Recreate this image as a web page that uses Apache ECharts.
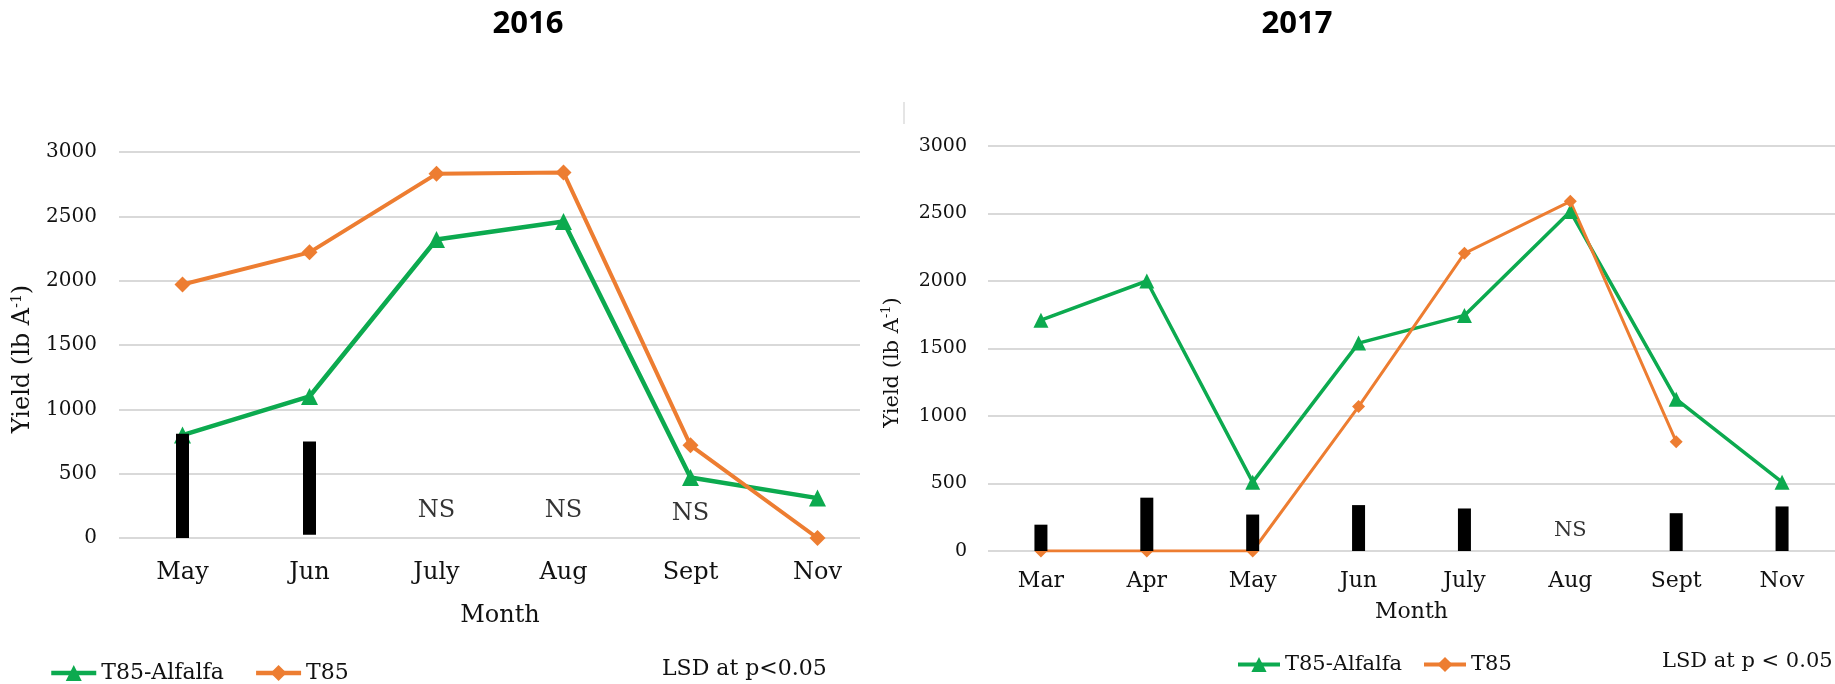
<!DOCTYPE html>
<html>
<head>
<meta charset="utf-8">
<script src="https://cdn.jsdelivr.net/npm/echarts@6/dist/echarts.min.js"></script>
<style>
html,body{margin:0;padding:0;background:#fff;}
#chart{width:1835px;height:684px;}
</style>
</head>
<body>
<div id="chart"></div>
<script>
// ---- data ----
const months2016 = ['May', 'Jun', 'July', 'Aug', 'Sept', 'Nov'];
const alfalfa2016 = [800, 1100, 2320, 2460, 470, 310];
const t85y2016 = [1970, 2220, 2830, 2840, 720, 0];
const lsdBase2016 = [0, 25, null, null, null, null];
const lsd2016 = [810, 725, null, null, null, null];
const ns2016 = [null, null, 210, 210, 185, null];

const months2017 = ['Mar', 'Apr', 'May', 'Jun', 'July', 'Aug', 'Sept', 'Nov'];
const alfalfa2017 = [1710, 2000, 510, 1540, 1745, 2515, 1125, 510];
const t85y2017 = [0, 0, 0, 1070, 2205, 2590, 810, null];
const lsd2017 = [195, 395, 270, 340, 315, null, 280, 330];
const ns2017 = [null, null, null, null, null, 148, null, null];

const yMin = 0, yMax = 3000, yStep = 500;
const seriesNames = ['T85-Alfalfa', 'T85'];
const titles = ['2016', '2017'];
const lsdNotes = ['LSD at p<0.05', 'LSD at p < 0.05'];

// ---- styles ----
const GREEN = '#0CAA4F', ORANGE = '#ED7D31', GRID = '#D9D9D9';
const SERIF = 'DejaVu Serif';
const TXT = '#111';

const chart = echarts.init(document.getElementById('chart'));

const yName = 'Yield (lb A{sup|-1})';
const yNameStyle = (size, shift) => ({
  fontFamily: SERIF, fontSize: size, color: TXT, padding: [0, shift, 0, 0],
  rich: { sup: { fontFamily: SERIF, fontSize: Math.round(size * 0.6), verticalAlign: 'top', padding: [0, 0, size * 0.5, 0] } }
});
const plain = (v) => String(v);

const option = {
  animation: false,
  title: [
    { text: titles[0], left: 523, top: 4, textAlign: 'center',
      textStyle: { fontFamily: 'Open Sans', fontWeight: 'bold', fontSize: 31, color: '#000' } },
    { text: titles[1], left: 1292, top: 4, textAlign: 'center',
      textStyle: { fontFamily: 'Open Sans', fontWeight: 'bold', fontSize: 31, color: '#000' } }
  ],
  legend: [
    { data: seriesNames, left: 44, top: 657, itemWidth: 45, itemHeight: 20, itemGap: 30,
      lineStyle: { width: 4.5 },
      textStyle: { fontFamily: SERIF, fontSize: 22, color: TXT } },
    { data: seriesNames, left: 1231, top: 649, itemWidth: 42, itemHeight: 19, itemGap: 20,
      lineStyle: { width: 4 },
      textStyle: { fontFamily: SERIF, fontSize: 21, color: TXT } }
  ],
  grid: [
    { left: 119, top: 152, width: 741, height: 386 },
    { left: 119, top: 152, width: 762, height: 386 },
    { left: 988, top: 146, width: 851, height: 405 }
  ],
  xAxis: [
    { gridIndex: 0, type: 'category', data: months2016, show: false },
    { gridIndex: 1, type: 'category', data: months2016,
      axisLine: { show: false }, axisTick: { show: false },
      axisLabel: { fontFamily: SERIF, fontSize: 24, color: TXT, margin: 23 },
      name: 'Month', nameLocation: 'middle', nameGap: 66,
      nameTextStyle: { fontFamily: SERIF, fontSize: 24, color: TXT } },
    { gridIndex: 2, type: 'category', data: months2017,
      axisLine: { show: false }, axisTick: { show: false },
      axisLabel: { fontFamily: SERIF, fontSize: 22, color: TXT, margin: 19 },
      name: 'Month', nameLocation: 'middle', nameGap: 50,
      nameTextStyle: { fontFamily: SERIF, fontSize: 22, color: TXT } }
  ],
  yAxis: [
    { gridIndex: 0, type: 'value', min: yMin, max: yMax, interval: yStep,
      axisLine: { show: false }, axisTick: { show: false },
      splitLine: { lineStyle: { color: GRID, width: 2 } },
      axisLabel: { fontFamily: SERIF, fontSize: 20, color: TXT, margin: 22, formatter: plain },
      name: yName, nameLocation: 'middle', nameGap: 83, nameRotate: 90,
      nameTextStyle: yNameStyle(24, 28) },
    { gridIndex: 1, type: 'value', min: yMin, max: yMax, interval: yStep, show: false,
      splitLine: { show: false } },
    { gridIndex: 2, type: 'value', min: yMin, max: yMax, interval: yStep,
      axisLine: { show: false }, axisTick: { show: false },
      splitLine: { lineStyle: { color: GRID, width: 2 } },
      axisLabel: { fontFamily: SERIF, fontSize: 19, color: TXT, margin: 21, formatter: plain },
      name: yName, nameLocation: 'middle', nameGap: 84, nameRotate: 90,
      nameTextStyle: yNameStyle(21, 28) }
  ],
  series: [
    // ---- 2016 ----
    { name: 'T85-Alfalfa', type: 'line', xAxisIndex: 1, yAxisIndex: 1, data: alfalfa2016,
      symbol: 'triangle', symbolSize: 17, z: 2,
      lineStyle: { color: GREEN, width: 4.5 }, itemStyle: { color: GREEN } },
    { name: 'T85', type: 'line', xAxisIndex: 1, yAxisIndex: 1, data: t85y2016,
      symbol: 'diamond', symbolSize: 16, z: 2,
      lineStyle: { color: ORANGE, width: 4 }, itemStyle: { color: ORANGE } },
    { name: 'lsdBase16', type: 'bar', xAxisIndex: 1, yAxisIndex: 1, data: lsdBase2016,
      stack: 'lsd16', barWidth: 13, z: 3, silent: true, itemStyle: { color: 'transparent' } },
    { name: 'LSD', type: 'bar', xAxisIndex: 1, yAxisIndex: 1, data: lsd2016,
      stack: 'lsd16', barWidth: 13, z: 3, itemStyle: { color: '#000' } },
    { name: 'NS16', type: 'scatter', xAxisIndex: 1, yAxisIndex: 1, data: ns2016,
      symbolSize: 0, silent: true, z: 4,
      label: { show: true, position: 'inside', formatter: 'NS',
        fontFamily: SERIF, fontSize: 24, color: '#000' } },
    // ---- 2017 ----
    { name: 'T85-Alfalfa', type: 'line', xAxisIndex: 2, yAxisIndex: 2, data: alfalfa2017,
      symbol: 'triangle', symbolSize: 15, z: 2,
      lineStyle: { color: GREEN, width: 3.5 }, itemStyle: { color: GREEN } },
    { name: 'T85', type: 'line', xAxisIndex: 2, yAxisIndex: 2, data: t85y2017,
      symbol: 'diamond', symbolSize: 13, z: 2, connectNulls: false,
      lineStyle: { color: ORANGE, width: 3 }, itemStyle: { color: ORANGE } },
    { name: 'LSD17', type: 'bar', xAxisIndex: 2, yAxisIndex: 2, data: lsd2017,
      barWidth: 13, z: 3, itemStyle: { color: '#000' } },
    { name: 'NS17', type: 'scatter', xAxisIndex: 2, yAxisIndex: 2, data: ns2017,
      symbolSize: 0, silent: true, z: 4,
      label: { show: true, position: 'inside', formatter: 'NS',
        fontFamily: SERIF, fontSize: 21, color: '#000' } }
  ],
  graphic: [
    { type: 'text', left: 662, top: 658,
      style: { text: lsdNotes[0], font: '22px "DejaVu Serif"', fill: TXT } },
    { type: 'text', left: 1662, top: 651,
      style: { text: lsdNotes[1], font: '21px "DejaVu Serif"', fill: TXT } },
    { type: 'line', shape: { x1: 904, y1: 102, x2: 904, y2: 124 },
      style: { stroke: '#DDDDDD', lineWidth: 1.5 } }
  ]
};
chart.setOption(option);
</script>
</body>
</html>
